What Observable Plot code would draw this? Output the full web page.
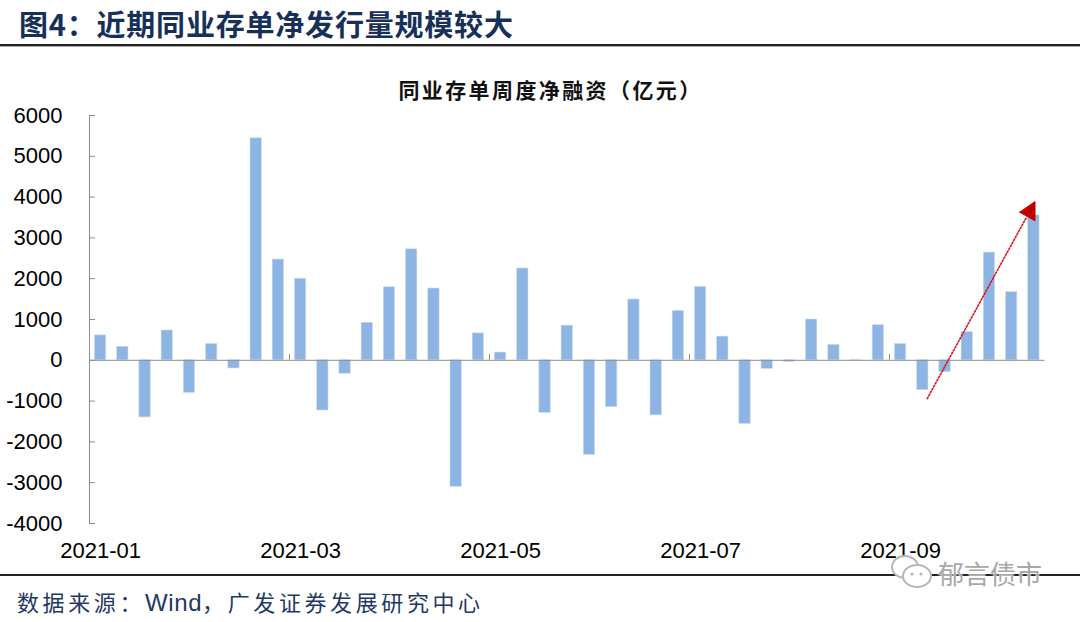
<!DOCTYPE html>
<html>
<head>
<meta charset="utf-8">
<script src="https://cdn.jsdelivr.net/npm/d3@7"></script>
<script src="https://cdn.jsdelivr.net/npm/@observablehq/plot@0.6"></script>
<style>
  html, body { margin: 0; padding: 0; background: #fff; }
  #page { position: relative; width: 1080px; height: 622px; overflow: hidden; background: #fff; }
  #title { position: absolute; left: 19px; top: 4px; font-family: "Noto Sans CJK SC", sans-serif; font-weight: bold; font-size: 29px; letter-spacing: 0.8px; color: #17305a; line-height: 38px; white-space: nowrap; }
  #rule1 { position: absolute; left: 0; top: 44px; width: 1080px; height: 2px; background: #222; }
  #rule2 { position: absolute; left: 0; top: 46px; width: 1080px; height: 1px; background: #aaa; }
  #subtitle { position: absolute; left: 8px; width: 1085px; top: 75px; text-align: center; font-family: "Noto Sans CJK SC", sans-serif; font-weight: bold; font-size: 21px; letter-spacing: 2.4px; color: #111; line-height: 28px; }
  #chart { position: absolute; left: 0; top: 100px; }
  #rule3 { position: absolute; left: 0; top: 574px; width: 1080px; height: 2px; background: #222; }
  #caption { position: absolute; left: 17px; top: 585px; font-family: "Noto Sans CJK SC", sans-serif; font-size: 22px; letter-spacing: 3.6px; color: #1f3864; line-height: 32px; white-space: nowrap; }
  #caption .en { letter-spacing: 0.6px; font-family: "Liberation Sans", Arial, sans-serif; font-size: 24px; }
  #wm { position: absolute; left: 938px; top: 556px; font-family: "Noto Sans CJK SC", sans-serif; font-size: 26px; color: #a8a8a8; line-height: 34px; text-shadow: 0 0 2px #fff, 0 0 2px #fff; white-space: nowrap; }
  #wmicon { position: absolute; left: 889px; top: 552px; }
</style>
</head>
<body>
<div id="page">
  <div id="title">图4：近期同业存单净发行量规模较大</div>
  <div id="rule1"></div>
  <div id="rule2"></div>
  <div id="subtitle">同业存单周度净融资（亿元）</div>
  <div id="chart"></div>
  <div id="rule3"></div>
  <div id="caption">数据来源：<span class="en">Wind</span>，广发证券发展研究中心</div>
  <svg id="wmicon" width="46" height="40" viewBox="0 0 46 40">
    <ellipse cx="16" cy="15" rx="13" ry="11" fill="#fff" stroke="#b8b8b8" stroke-width="2"/>
    <ellipse cx="28" cy="24" rx="14" ry="11" fill="#fff" stroke="#b8b8b8" stroke-width="2"/>
    <circle cx="23" cy="22" r="1.6" fill="#b8b8b8"/>
    <circle cx="32" cy="22" r="1.6" fill="#b8b8b8"/>
  </svg>
  <div id="wm">郁言债市</div>
</div>
<script>
// Weekly net financing of interbank CDs (亿元), 43 weeks from early Jan 2021
const weekValues = [
  610, 330, -1400, 730, -800, 400, -200, 5440, 2470, 2000,
  -1230, -330, 920, 1790, 2720, 1760, -3100, 660, 190, 2250,
  -1290, 850, -2320, -1150, 1490, -1350, 1210, 1800, 580, -1560,
  -210, -40, 1000, 380, -20, 860, 400, -730, -290, 690,
  2640, 1670, 3550
];
const xTickIndex = [0, 9, 18, 27, 36];
const xTickLabels = ["2021-01", "2021-03", "2021-05", "2021-07", "2021-09"];
const yTicks = [-4000, -3000, -2000, -1000, 0, 1000, 2000, 3000, 4000, 5000, 6000];
// trend annotation (in data units: week index, value)
const arrowLine = [{i: 37.2, v: -940}, {i: 41.67, v: 3510}];
const arrowHead = [{i: 41.36, v: 3630}, {i: 42.05, v: 3890}, {i: 42.05, v: 3420}, {i: 41.36, v: 3630}];

const bars = weekValues.map((v, i) => ({i, v}));
const n = weekValues.length;
const monthBoundaries = xTickIndex.slice(1).map(i => i - 0.5);
const labelOf = new Map(xTickIndex.map((i, k) => [i, xTickLabels[k]]));

const axisGray = "#8c8c8c";
const chart = Plot.plot({
  width: 1080,
  height: 470,
  marginTop: 15,
  marginBottom: 47,
  marginLeft: 89,
  marginRight: 35.5,
  style: {fontFamily: "'Liberation Sans', Arial, sans-serif", color: "#000", background: "transparent", overflow: "visible"},
  x: {type: "linear", domain: [-0.5, n - 0.5], axis: null},
  y: {domain: [-4000, 6000], axis: null},
  marks: [
    Plot.rect(bars, {x1: d => d.i - 0.255, x2: d => d.i + 0.255, y1: 0, y2: "v", fill: "#8db4e2", stroke: "#c9dcf3", strokeWidth: 0.6}),
    Plot.ruleY([0], {x1: -0.5, x2: n - 0.5, stroke: axisGray, strokeWidth: 1}),
    Plot.ruleX([-0.5], {y1: -4000, y2: 6000, stroke: axisGray, strokeWidth: 1}),
    Plot.ruleY(yTicks, {y: d => d, x1: -0.5, x2: -0.23, stroke: axisGray, strokeWidth: 1}),
    Plot.ruleX(monthBoundaries, {x: d => d, y1: 0, y2: 150, stroke: axisGray, strokeWidth: 1}),
    Plot.axisY({ticks: yTicks, tickSize: 0, tickPadding: 27, fontSize: 22, label: null, tickFormat: d => String(d)}),
    Plot.axisX({ticks: xTickIndex, tickSize: 0, tickPadding: 19, fontSize: 22, label: null, tickFormat: d => labelOf.get(d)}),
    Plot.line(arrowLine, {x: "i", y: "v", stroke: "#e0141e", strokeWidth: 1.6, strokeDasharray: "1.6,1.8"}),
    Plot.line(arrowHead, {x: "i", y: "v", fill: "#c00000", stroke: "#c00000", strokeWidth: 1})
  ]
});
document.getElementById("chart").appendChild(chart);
</script>
</body>
</html>
